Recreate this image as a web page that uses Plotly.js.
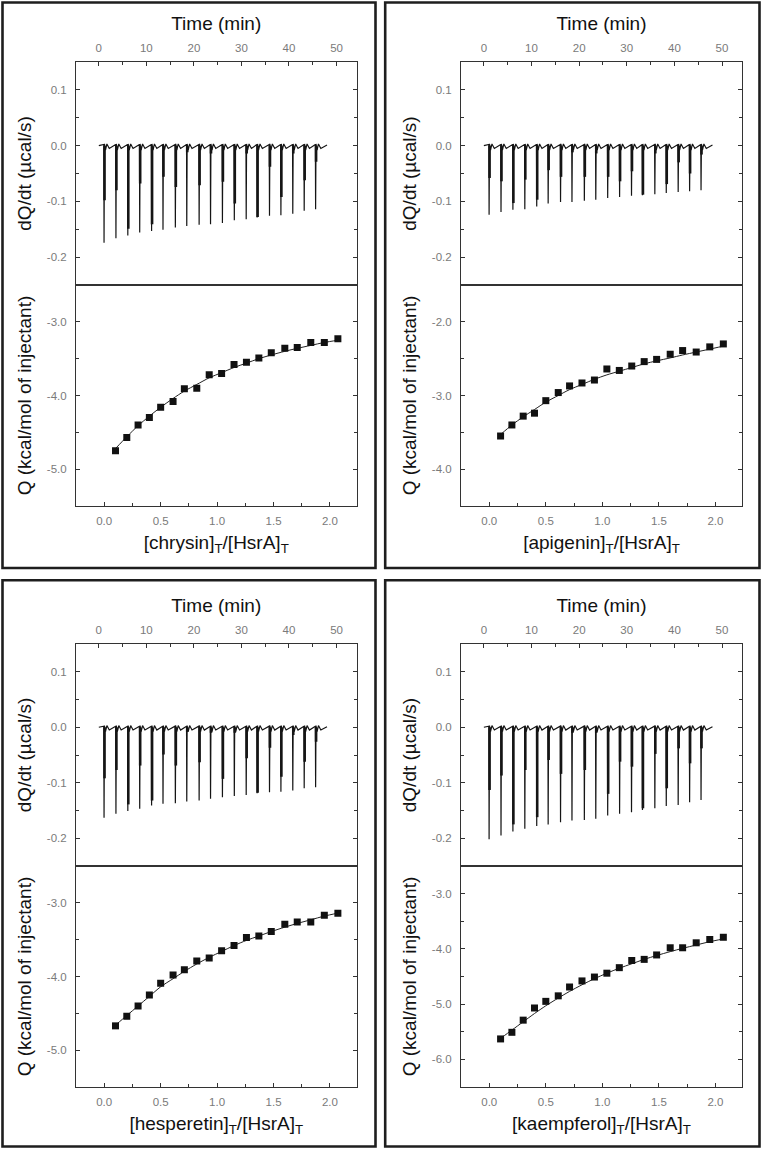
<!DOCTYPE html>
<html>
<head>
<meta charset="utf-8">
<script src="https://cdn.plot.ly/plotly-3.0.1.min.js"></script>
<style>
html,body{margin:0;padding:0;background:#fff;}
#chart{width:762px;height:1149px;}
</style>
</head>
<body>
<div id="chart"></div>
<script>
// ---------------- DATA ----------------
const ligands = ["chrysin", "apigenin", "hesperetin", "kaempferol"];

// injection times (min) and baseline limits of the raw thermograms
const injTime = [1.1, 3.6, 6.1, 8.6, 11.1, 13.5, 16.1, 18.5, 21.1, 23.5, 26.0, 28.5, 31.0, 33.3, 35.9, 38.3, 40.8, 43.2, 45.6];
const baseStartTime = 0.0;
const baseEndTime = 48.0;

// peak depth of each injection (µcal/s)
const peakChrysin    = [-0.174, -0.166, -0.161, -0.156, -0.153, -0.151, -0.147, -0.144, -0.142, -0.141, -0.139, -0.134, -0.132, -0.129, -0.126, -0.125, -0.122, -0.117, -0.114];
const peakApigenin   = [-0.124, -0.119, -0.115, -0.114, -0.109, -0.104, -0.101, -0.101, -0.099, -0.097, -0.094, -0.092, -0.090, -0.089, -0.087, -0.085, -0.083, -0.082, -0.080];
const peakHesperetin = [-0.163, -0.156, -0.151, -0.147, -0.141, -0.138, -0.137, -0.134, -0.132, -0.129, -0.126, -0.124, -0.122, -0.119, -0.117, -0.116, -0.114, -0.110, -0.108];
const peakKaempferol = [-0.202, -0.195, -0.188, -0.183, -0.178, -0.175, -0.171, -0.168, -0.167, -0.165, -0.159, -0.156, -0.153, -0.149, -0.146, -0.142, -0.140, -0.135, -0.131];

// depth of the broad (thick) part of each injection peak (µcal/s)
const shoulderChrysin    = [-0.098, -0.080, -0.149, -0.068, -0.141, -0.056, -0.074, -0.012, -0.071, -0.014, -0.065, -0.104, -0.014, -0.128, -0.038, -0.092, -0.014, -0.062, -0.029];
const shoulderApigenin   = [-0.058, -0.064, -0.103, -0.061, -0.097, -0.044, -0.056, -0.012, -0.056, -0.014, -0.056, -0.064, -0.046, -0.088, -0.014, -0.069, -0.030, -0.050, -0.016];
const shoulderHesperetin = [-0.092, -0.077, -0.139, -0.069, -0.132, -0.049, -0.069, -0.008, -0.063, -0.010, -0.093, -0.010, -0.056, -0.118, -0.037, -0.089, -0.014, -0.062, -0.026];
const shoulderKaempferol = [-0.113, -0.087, -0.175, -0.077, -0.162, -0.059, -0.084, -0.010, -0.077, -0.010, -0.120, -0.062, -0.071, -0.146, -0.048, -0.110, -0.038, -0.065, -0.038];

// relaxation tail after each injection: time offsets (min) and signal (µcal/s)
const tailOffset = [0.3, 0.6, 1.1, 1.7];
const tailSignal = [-0.008, 0.003, -0.005, -0.002];

// integrated heats: molar ratio and Q (kcal/mol of injectant)
const molarRatio = [0.10, 0.20, 0.30, 0.40, 0.50, 0.61, 0.71, 0.82, 0.93, 1.04, 1.15, 1.26, 1.37, 1.48, 1.60, 1.71, 1.83, 1.95, 2.07];
const qChrysin    = [-4.75, -4.57, -4.40, -4.30, -4.16, -4.08, -3.91, -3.90, -3.72, -3.70, -3.58, -3.55, -3.49, -3.42, -3.36, -3.35, -3.28, -3.28, -3.23];
const qApigenin   = [-3.55, -3.40, -3.28, -3.24, -3.07, -2.96, -2.87, -2.83, -2.79, -2.64, -2.66, -2.60, -2.54, -2.51, -2.44, -2.39, -2.41, -2.34, -2.30];
const qHesperetin = [-4.67, -4.54, -4.40, -4.25, -4.09, -3.98, -3.91, -3.79, -3.75, -3.65, -3.58, -3.47, -3.45, -3.39, -3.29, -3.26, -3.26, -3.17, -3.14];
const qKaempferol = [-5.63, -5.51, -5.29, -5.07, -4.95, -4.85, -4.69, -4.58, -4.51, -4.44, -4.34, -4.21, -4.19, -4.11, -3.98, -3.98, -3.89, -3.83, -3.79];

// fitted binding curves at the same molar ratios
const fitChrysin    = [-4.72, -4.56, -4.41, -4.28, -4.16, -4.04, -3.94, -3.85, -3.76, -3.69, -3.62, -3.56, -3.50, -3.45, -3.40, -3.36, -3.32, -3.28, -3.25];
const fitApigenin   = [-3.53, -3.40, -3.29, -3.19, -3.09, -3.00, -2.92, -2.85, -2.78, -2.72, -2.67, -2.62, -2.57, -2.53, -2.49, -2.45, -2.41, -2.37, -2.33];
const fitHesperetin = [-4.66, -4.53, -4.40, -4.27, -4.14, -4.03, -3.93, -3.83, -3.74, -3.66, -3.58, -3.51, -3.45, -3.39, -3.33, -3.28, -3.23, -3.18, -3.14];
const fitKaempferol = [-5.62, -5.47, -5.32, -5.17, -5.03, -4.89, -4.77, -4.65, -4.54, -4.44, -4.35, -4.27, -4.19, -4.12, -4.05, -3.99, -3.93, -3.87, -3.82];

// tick values and labels
const timeTickVals = [0, 10, 20, 30, 40, 50];
const timeTickText = ["0", "10", "20", "30", "40", "50"];
const dqTickVals = [-0.2, -0.1, 0.0, 0.1];
const dqTickText = ["-0.2", "-0.1", "0.0", "0.1"];
const ratioTickVals = [0, 0.5, 1.0, 1.5, 2.0];
const ratioTickText = ["0.0", "0.5", "1.0", "1.5", "2.0"];
const qTickValsChrysin = [-5, -4, -3];
const qTickTextChrysin = ["-5.0", "-4.0", "-3.0"];
const qTickValsApigenin = [-4, -3, -2];
const qTickTextApigenin = ["-4.0", "-3.0", "-2.0"];
const qTickValsHesperetin = [-5, -4, -3];
const qTickTextHesperetin = ["-5.0", "-4.0", "-3.0"];
const qTickValsKaempferol = [-6, -5, -4, -3];
const qTickTextKaempferol = ["-6.0", "-5.0", "-4.0", "-3.0"];
const qRangeChrysin = [-5.5, -2.5];
const qRangeApigenin = [-4.5, -1.5];
const qRangeHesperetin = [-5.5, -2.5];
const qRangeKaempferol = [-6.5, -2.5];

// ---------------- BUILD ----------------
const W = 762, H = 1149;
const panels = [
  {peak: peakChrysin, sh: shoulderChrysin, q: qChrysin, fit: fitChrysin, qt: qTickValsChrysin, qtt: qTickTextChrysin, qr: qRangeChrysin,
   px: [76, 356.5], top: [62, 285], bot: [285, 506], box: [2.5, 2.5, 375.5, 568]},
  {peak: peakApigenin, sh: shoulderApigenin, q: qApigenin, fit: fitApigenin, qt: qTickValsApigenin, qtt: qTickTextApigenin, qr: qRangeApigenin,
   px: [461, 742], top: [62, 285], bot: [285, 506], box: [385.2, 2.5, 759.5, 568]},
  {peak: peakHesperetin, sh: shoulderHesperetin, q: qHesperetin, fit: fitHesperetin, qt: qTickValsHesperetin, qtt: qTickTextHesperetin, qr: qRangeHesperetin,
   px: [76, 356.5], top: [644, 866], bot: [866, 1087], box: [2.5, 580.2, 375.5, 1146.5]},
  {peak: peakKaempferol, sh: shoulderKaempferol, q: qKaempferol, fit: fitKaempferol, qt: qTickValsKaempferol, qtt: qTickTextKaempferol, qr: qRangeKaempferol,
   px: [461, 742], top: [644, 866], bot: [866, 1087], box: [385.2, 580.2, 759.5, 1146.5]}
];

const FONT = 'Arial, "Liberation Sans", Helvetica, sans-serif';
const tickFont = {family: FONT, size: 11.5, color: '#7a7a7a'};
const titleFont = {family: FONT, size: 19, color: '#111'};
const axisColor = '#333';

const data = [];
const layout = {
  width: W, height: H,
  margin: {l: 0, r: 0, t: 0, b: 0},
  paper_bgcolor: '#fff', plot_bgcolor: '#fff',
  showlegend: false,
  shapes: []
};

function fx(p) { return p / W; }
function fy(p) { return 1 - p / H; }

panels.forEach((pn, i) => {
  const a = 2 * i + 1, b = 2 * i + 2;
  const xa = 'xaxis' + (a === 1 ? '' : a), ya = 'yaxis' + (a === 1 ? '' : a);
  const xb = 'xaxis' + b, yb = 'yaxis' + b;
  const xra = 'x' + (a === 1 ? '' : a), yra = 'y' + (a === 1 ? '' : a);
  const xrb = 'x' + b, yrb = 'y' + b;

  // thermogram polyline from read values: sharp peak and relaxation tail
  const tx = [baseStartTime], ty = [0];
  injTime.forEach((t, k) => {
    tx.push(t - 0.05); ty.push(0.002);
    tx.push(t); ty.push(pn.peak[k]);
    tx.push(t + 0.08); ty.push(0.003);
    tailOffset.forEach((d, j) => { tx.push(t + d); ty.push(tailSignal[j]); });
  });
  tx.push(baseEndTime); ty.push(0.001);
  data.push({x: tx, y: ty, xaxis: xra, yaxis: yra, type: 'scatter', mode: 'lines',
             line: {color: '#151515', width: 1.2}, hoverinfo: 'skip'});

  // broad upper part of each peak
  const sx = [], sy = [];
  injTime.forEach((t, k) => {
    sx.push(t + 0.1, t + 0.1, null);
    sy.push(0, pn.sh[k], null);
  });
  data.push({x: sx, y: sy, xaxis: xra, yaxis: yra, type: 'scatter', mode: 'lines',
             line: {color: '#151515', width: 2.6}, connectgaps: false, hoverinfo: 'skip'});

  // fit curve
  data.push({x: molarRatio, y: pn.fit, xaxis: xrb, yaxis: yrb, type: 'scatter', mode: 'lines',
             line: {color: '#222', width: 1, shape: 'spline', smoothing: 0.8}, hoverinfo: 'skip'});
  // points
  data.push({x: molarRatio, y: pn.q, xaxis: xrb, yaxis: yrb, type: 'scatter', mode: 'markers',
             marker: {symbol: 'square', size: 7, color: '#111'}});

  const xdom = [fx(pn.px[0]), fx(pn.px[1])];
  const common = {showgrid: false, zeroline: false, showline: true, linecolor: axisColor, linewidth: 1,
                  ticks: 'inside', ticklen: 4, tickcolor: axisColor, tickwidth: 1, tickfont: tickFont, automargin: false};

  layout[xa] = Object.assign({}, common, {
    domain: xdom, anchor: yra, side: 'top', range: [-4.8, 54.2], mirror: true,
    tickmode: 'array', tickvals: timeTickVals, ticktext: timeTickText, ticklabelstandoff: 4,
    minor: {ticks: 'inside', ticklen: 3, tickcolor: axisColor, dtick: 5, tick0: 0},
    title: {text: 'Time (min)', font: titleFont, standoff: 6}
  });
  layout[ya] = Object.assign({}, common, {
    domain: [fy(pn.top[1]), fy(pn.top[0])], anchor: xra, range: [-0.25, 0.15], mirror: 'ticks',
    tickmode: 'array', tickvals: dqTickVals, ticktext: dqTickText, ticklabelstandoff: 6,
    minor: {ticks: 'inside', ticklen: 3, tickcolor: axisColor, dtick: 0.05, tick0: 0},
    title: {text: 'dQ/dt (µcal/s)', font: titleFont, standoff: 10}
  });
  layout[xb] = Object.assign({}, common, {
    domain: xdom, anchor: yrb, side: 'bottom', range: [-0.25, 2.235], mirror: true,
    tickmode: 'array', tickvals: ratioTickVals, ticktext: ratioTickText, ticklabelstandoff: 4,
    minor: {ticks: 'inside', ticklen: 3, tickcolor: axisColor, dtick: 0.25, tick0: 0},
    title: {text: '[' + ligands[i] + ']<sub>T</sub>/[HsrA]<sub>T</sub>', font: titleFont, standoff: 9}
  });
  layout[yb] = Object.assign({}, common, {
    domain: [fy(pn.bot[1]), fy(pn.bot[0])], anchor: xrb, range: pn.qr, mirror: 'ticks',
    tickmode: 'array', tickvals: pn.qt, ticktext: pn.qtt, ticklabelstandoff: 6,
    minor: {ticks: 'inside', ticklen: 3, tickcolor: axisColor, dtick: 0.5, tick0: 0},
    title: {text: 'Q (kcal/mol of injectant)', font: titleFont, standoff: 10}
  });

  layout.shapes.push({type: 'rect', xref: 'paper', yref: 'paper', layer: 'above',
    x0: fx(pn.box[0]), x1: fx(pn.box[2]), y0: fy(pn.box[3]), y1: fy(pn.box[1]),
    line: {color: '#1e1e1e', width: 2.6}, fillcolor: 'rgba(0,0,0,0)'});
});

Plotly.newPlot('chart', data, layout, {staticPlot: true, displayModeBar: false});
</script>
</body>
</html>
